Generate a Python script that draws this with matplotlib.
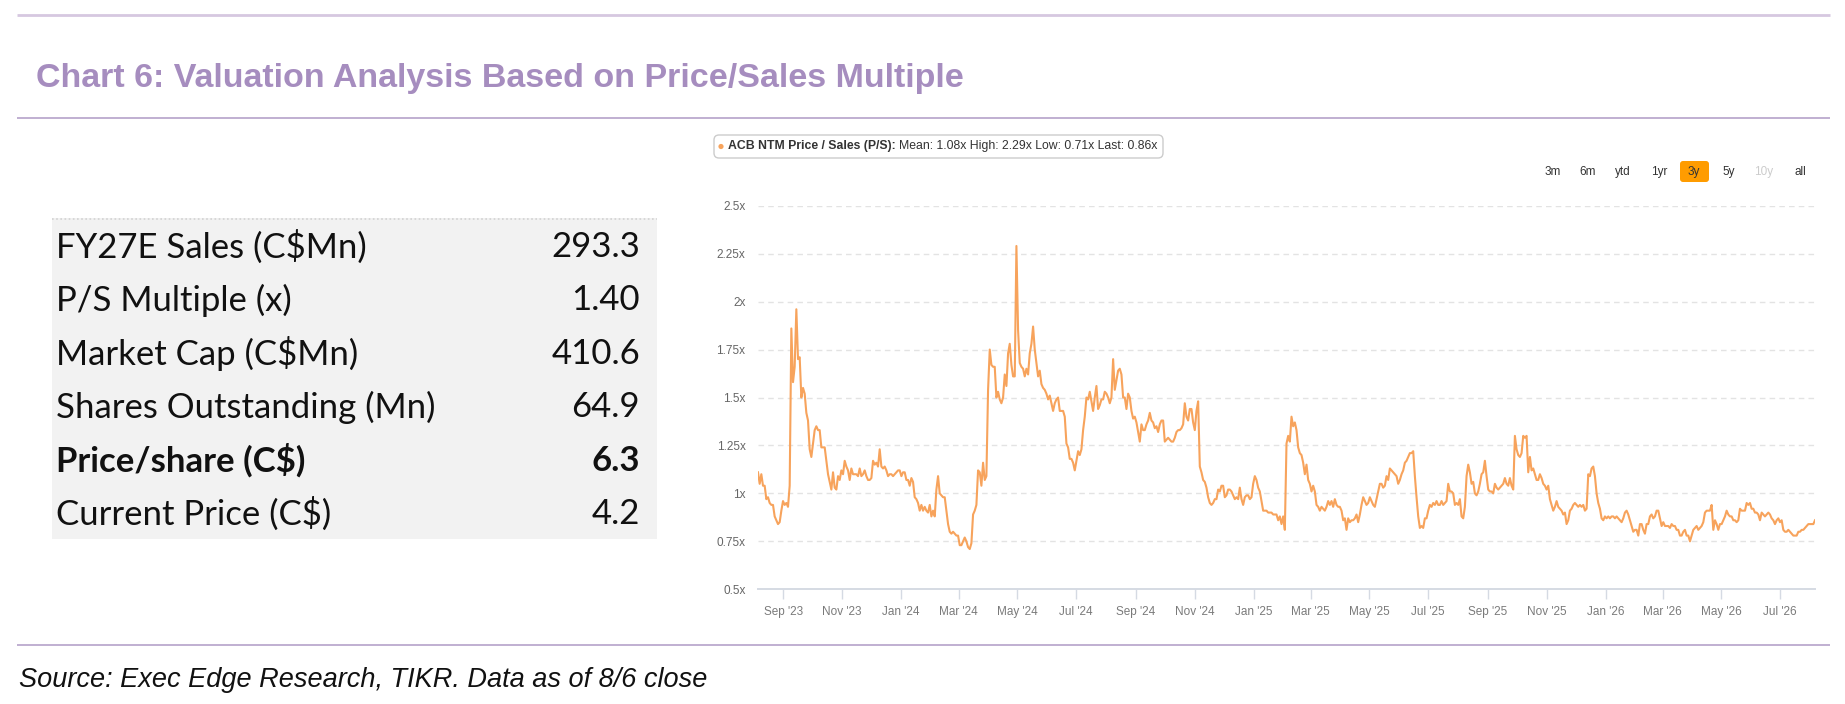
"""
Chart 6 - valuation table next to the NTM P/S line chart.
"""

import matplotlib
matplotlib.use("Agg")
import matplotlib.pyplot as plt
import matplotlib.dates as mdates
from matplotlib.patches import FancyBboxPatch, Rectangle
import pandas as pd

W, H = 1845, 704

# ---------------------------------------------------------------
# data
# ---------------------------------------------------------------
table_labels = ["FY27E Sales (C$Mn)", "P/S Multiple (x)", "Market Cap (C$Mn)",
                "Shares Outstanding (Mn)", "Price/share (C$)", "Current Price (C$)"]
table_values = ["293.3", "1.40", "410.6", "64.9", "6.3", "4.2"]
table_bold = [False, False, False, False, True, False]

range_buttons = ["3m", "6m", "ytd", "1yr", "3y", "5y", "10y", "all"]

legend_name = "ACB NTM Price / Sales (P/S):"
legend_stats = "Mean: 1.08x High: 2.29x Low: 0.71x Last: 0.86x"

start_date, end_date = "2023-08-06", "2026-08-06"

# NTM P/S, evenly spaced samples from start to end
ps_values = [
    1.11, 1.05, 1.10, 1.04, 1.04, 0.97, 0.98, 0.95, 0.94, 0.94,
    0.88, 0.86, 0.84, 0.85, 0.91, 0.96, 0.94, 0.95, 0.93, 1.04,
    1.86, 1.58, 1.66, 1.96, 1.70, 1.71, 1.50, 1.55, 1.52, 1.42,
    1.38, 1.23, 1.19, 1.26, 1.33, 1.35, 1.33, 1.33, 1.24, 1.24,
    1.24, 1.17, 1.10, 1.06, 1.02, 1.11, 1.03, 1.02, 1.09, 1.07,
    1.12, 1.10, 1.17, 1.14, 1.12, 1.07, 1.13, 1.10, 1.10, 1.10,
    1.09, 1.13, 1.09, 1.10, 1.12, 1.09, 1.07, 1.07, 1.08, 1.17,
    1.15, 1.16, 1.14, 1.23, 1.14, 1.13, 1.14, 1.12, 1.09, 1.10,
    1.10, 1.09, 1.10, 1.11, 1.12, 1.12, 1.09, 1.11, 1.11, 1.07,
    1.07, 1.04, 1.08, 1.06, 0.98, 0.97, 0.95, 0.91, 0.94, 0.91,
    0.93, 0.91, 0.90, 0.94, 0.88, 0.91, 0.88, 1.02, 1.09, 1.00,
    0.99, 0.98, 0.98, 0.91, 0.84, 0.80, 0.79, 0.80, 0.79, 0.78,
    0.78, 0.73, 0.73, 0.75, 0.77, 0.75, 0.72, 0.71, 0.74, 0.89,
    0.91, 0.94, 1.12, 1.11, 1.04, 1.16, 1.07, 1.09, 1.54, 1.75,
    1.67, 1.66, 1.66, 1.50, 1.53, 1.49, 1.47, 1.50, 1.62, 1.56,
    1.73, 1.78, 1.67, 1.61, 1.61, 2.29, 1.85, 1.68, 1.66, 1.65,
    1.61, 1.65, 1.62, 1.73, 1.78, 1.87, 1.75, 1.68, 1.61, 1.64,
    1.57, 1.55, 1.54, 1.52, 1.49, 1.51, 1.47, 1.43, 1.47, 1.49,
    1.50, 1.43, 1.43, 1.43, 1.40, 1.26, 1.24, 1.18, 1.18, 1.16,
    1.12, 1.17, 1.22, 1.20, 1.23, 1.33, 1.40, 1.50, 1.49, 1.53,
    1.48, 1.43, 1.50, 1.56, 1.44, 1.46, 1.49, 1.49, 1.53, 1.52,
    1.50, 1.47, 1.50, 1.70, 1.54, 1.59, 1.64, 1.65, 1.62, 1.50,
    1.50, 1.44, 1.52, 1.50, 1.43, 1.39, 1.40, 1.37, 1.32, 1.27,
    1.36, 1.33, 1.33, 1.36, 1.38, 1.42, 1.38, 1.37, 1.34, 1.35,
    1.32, 1.36, 1.38, 1.38, 1.27, 1.28, 1.29, 1.28, 1.27, 1.27,
    1.29, 1.32, 1.33, 1.33, 1.34, 1.36, 1.47, 1.40, 1.38, 1.44,
    1.44, 1.37, 1.33, 1.43, 1.48, 1.14, 1.11, 1.07, 1.06, 1.03,
    0.98, 0.95, 0.94, 0.95, 0.97, 0.97, 1.02, 1.01, 1.04, 1.04,
    0.98, 0.99, 1.02, 1.02, 1.01, 0.99, 0.97, 0.98, 0.97, 1.03,
    0.97, 0.94, 0.98, 0.99, 0.99, 0.97, 0.98, 1.05, 1.09, 1.07,
    1.03, 1.01, 0.96, 0.91, 0.91, 0.91, 0.90, 0.90, 0.90, 0.89,
    0.89, 0.89, 0.86, 0.88, 0.84, 0.88, 0.81, 1.26, 1.30, 1.27,
    1.40, 1.35, 1.37, 1.33, 1.24, 1.21, 1.20, 1.16, 1.10, 1.15,
    1.07, 1.05, 1.01, 1.04, 1.01, 0.94, 0.93, 0.91, 0.93, 0.92,
    0.91, 0.93, 0.96, 0.94, 0.96, 0.93, 0.97, 0.94, 0.93, 0.93,
    0.91, 0.86, 0.87, 0.81, 0.87, 0.85, 0.86, 0.86, 0.87, 0.89,
    0.85, 0.89, 0.94, 0.98, 0.96, 0.94, 0.95, 0.98, 0.96, 0.94,
    0.93, 0.97, 1.01, 1.05, 1.05, 1.03, 1.04, 1.09, 1.07, 1.13,
    1.12, 1.11, 1.10, 1.09, 1.05, 1.07, 1.10, 1.12, 1.16, 1.17,
    1.19, 1.21, 1.21, 1.22, 1.09, 0.98, 0.88, 0.82, 0.83, 0.82,
    0.87, 0.87, 0.91, 0.94, 0.93, 0.95, 0.94, 0.96, 0.94, 0.94,
    0.96, 0.94, 0.95, 0.96, 1.05, 1.01, 1.01, 1.00, 0.94, 0.95,
    0.94, 0.97, 0.88, 0.87, 0.93, 1.09, 1.15, 1.11, 1.05, 1.06,
    1.00, 0.99, 1.01, 1.05, 1.10, 1.11, 1.17, 1.09, 1.02, 1.01,
    1.01, 1.00, 1.05, 1.03, 1.02, 1.03, 1.04, 1.05, 1.08, 1.05,
    1.04, 1.08, 1.04, 1.02, 1.30, 1.23, 1.20, 1.19, 1.21, 1.30,
    1.29, 1.30, 1.11, 1.19, 1.12, 1.13, 1.10, 1.07, 1.07, 1.10,
    1.08, 1.05, 1.04, 1.02, 1.04, 0.97, 0.94, 0.91, 0.93, 0.96,
    0.93, 0.92, 0.91, 0.89, 0.90, 0.84, 0.86, 0.91, 0.92, 0.94,
    0.95, 0.94, 0.93, 0.94, 0.93, 0.94, 0.91, 0.92, 1.10, 1.09,
    1.13, 1.14, 1.09, 1.00, 0.95, 0.92, 0.87, 0.86, 0.88, 0.87,
    0.88, 0.87, 0.88, 0.88, 0.87, 0.88, 0.87, 0.86, 0.85, 0.87,
    0.90, 0.91, 0.89, 0.86, 0.83, 0.80, 0.81, 0.81, 0.78, 0.84,
    0.84, 0.81, 0.79, 0.84, 0.84, 0.88, 0.89, 0.87, 0.88, 0.91,
    0.91, 0.87, 0.83, 0.85, 0.83, 0.83, 0.83, 0.82, 0.84, 0.83,
    0.83, 0.81, 0.81, 0.78, 0.78, 0.80, 0.81, 0.78, 0.78, 0.75,
    0.78, 0.81, 0.82, 0.83, 0.81, 0.82, 0.83, 0.85, 0.90, 0.91,
    0.91, 0.91, 0.94, 0.81, 0.86, 0.84, 0.81, 0.84, 0.84, 0.86,
    0.88, 0.91, 0.89, 0.88, 0.88, 0.86, 0.86, 0.85, 0.86, 0.92,
    0.91, 0.91, 0.91, 0.95, 0.94, 0.95, 0.92, 0.92, 0.90, 0.90,
    0.89, 0.86, 0.90, 0.89, 0.88, 0.89, 0.90, 0.89, 0.87, 0.86,
    0.84, 0.86, 0.87, 0.85, 0.86, 0.81, 0.80, 0.80, 0.81, 0.80,
    0.79, 0.78, 0.78, 0.78, 0.80, 0.80, 0.81, 0.81, 0.82, 0.83,
    0.84, 0.84, 0.84, 0.84, 0.86,
]

y_ticks = [0.5, 0.75, 1.0, 1.25, 1.5, 1.75, 2.0, 2.25, 2.5]
y_tick_labels = ["0.5x", "0.75x", "1x", "1.25x", "1.5x", "1.75x", "2x", "2.25x", "2.5x"]

# ---------------------------------------------------------------
# styles
# ---------------------------------------------------------------
C_PURPLE = "#a68dbf"
C_RULE_TOP = "#d6c8e0"
C_RULE = "#b5a2c9"
C_LINE = "#f7a35c"
C_GRID = "#e3e3e3"
C_AXIS = "#d5dae3"
C_TICKTXT = "#7a7a7a"
C_BTN = "#ff9c00"

plt.rcParams["font.family"] = ["Liberation Sans", "DejaVu Sans"]

fig = plt.figure(figsize=(W / 100, H / 100), dpi=100)
fig.patch.set_facecolor("white")

# pixel-coordinate canvas for the page furniture
bg = fig.add_axes([0, 0, 1, 1])
bg.set_xlim(0, W)
bg.set_ylim(H, 0)
bg.axis("off")

# rules
bg.plot([17, 1830], [15, 15], color=C_RULE_TOP, lw=2, solid_capstyle="butt")
bg.plot([17, 1830], [118, 118], color=C_RULE, lw=1.2, solid_capstyle="butt")
bg.plot([17, 1830], [645, 645], color=C_RULE, lw=1.2, solid_capstyle="butt")

# title
bg.text(36, 79, "Chart 6: Valuation Analysis Based on Price/Sales Multiple",
        ha="left", va="center", fontsize=24.5, fontweight="bold", color=C_PURPLE)

# source
bg.text(19, 680, "Source: Exec Edge Research, TIKR. Data as of 8/6 close",
        ha="left", va="center", fontsize=19.5, style="italic", color="#111111")

# ---------------------------------------------------------------
# valuation table
# ---------------------------------------------------------------
bg.add_patch(Rectangle((52, 218), 605, 321, facecolor="#f2f2f2",
                       edgecolor="none", zorder=1))
bg.plot([52, 657], [218.5, 218.5], color="#d2d2d2", lw=1.2, ls=(0, (1, 1.5)), zorder=2)

row_y0, row_dy = 247, 53.4
for i, (lab, val, b) in enumerate(zip(table_labels, table_values, table_bold)):
    y = row_y0 + i * row_dy
    w = "bold" if b else "normal"
    bg.text(56, y, lab, ha="left", va="center", fontsize=25, fontweight=w,
            family=["Lato", "DejaVu Sans"], color="#111111", zorder=3)
    bg.text(640, y, val, ha="right", va="center", fontsize=25, fontweight=w,
            family=["Lato", "DejaVu Sans"], color="#111111", zorder=3)

# ---------------------------------------------------------------
# legend box + range selector
# ---------------------------------------------------------------
bg.add_patch(FancyBboxPatch((714, 135), 449, 23, boxstyle="round,pad=0,rounding_size=5",
                            facecolor="white", edgecolor="#cccccc", lw=1))
bg.scatter([721], [146.5], s=14, color=C_LINE, zorder=3, edgecolors="none")
t_name = bg.text(728, 146.5, legend_name, ha="left", va="center", fontsize=8.8,
                 fontweight="bold", color="#333333")
fig.canvas.draw()
bb = t_name.get_window_extent(renderer=fig.canvas.get_renderer())
bg.text(bb.x1 + 3, 146.5, legend_stats, ha="left", va="center", fontsize=8.8,
        color="#333333")

btn_x = [1553, 1588, 1623, 1659, 1694, 1729, 1764, 1800]
for name, bx in zip(range_buttons, btn_x):
    col = "#333333"
    if name == "3y":
        bg.add_patch(FancyBboxPatch((1680, 161), 29, 21,
                                    boxstyle="round,pad=0,rounding_size=3",
                                    facecolor=C_BTN, edgecolor="none"))
    if name == "10y":
        col = "#cccccc"
    bg.text(bx, 172, name, ha="center", va="center", fontsize=8.5, color=col)

# ---------------------------------------------------------------
# P/S line chart
# ---------------------------------------------------------------
dates = pd.date_range(start_date, end_date, periods=len(ps_values))

ax = fig.add_axes([758 / W, 1 - 589.3 / H, (1815 - 758) / W, (589.3 - 205.7) / H])
ax.set_facecolor("none")
ax.plot(dates, ps_values, color=C_LINE, lw=1.5, zorder=3, solid_joinstyle="round")

ax.set_xlim(pd.Timestamp(start_date), pd.Timestamp(end_date))
ax.set_ylim(0.5, 2.5)
ax.set_yticks(y_ticks)
ax.set_yticklabels(y_tick_labels)

for yv in y_ticks[1:]:
    ax.axhline(yv, color=C_GRID, lw=1, ls=(0, (4, 3)), zorder=1)

for side in ["top", "right", "left"]:
    ax.spines[side].set_visible(False)
ax.spines["bottom"].set_color(C_AXIS)
ax.spines["bottom"].set_linewidth(1.4)

ax.xaxis.set_major_locator(mdates.MonthLocator(bymonth=[1, 3, 5, 7, 9, 11]))
ax.xaxis.set_major_formatter(mdates.DateFormatter("%b '%y"))
ax.tick_params(axis="x", length=7, width=1, color=C_AXIS, pad=5,
               labelsize=8.5, labelcolor=C_TICKTXT)
ax.tick_params(axis="y", length=0, pad=9, labelsize=8.5, labelcolor="#666666")

fig.savefig("out.png", dpi=100)
print("saved out.png")
